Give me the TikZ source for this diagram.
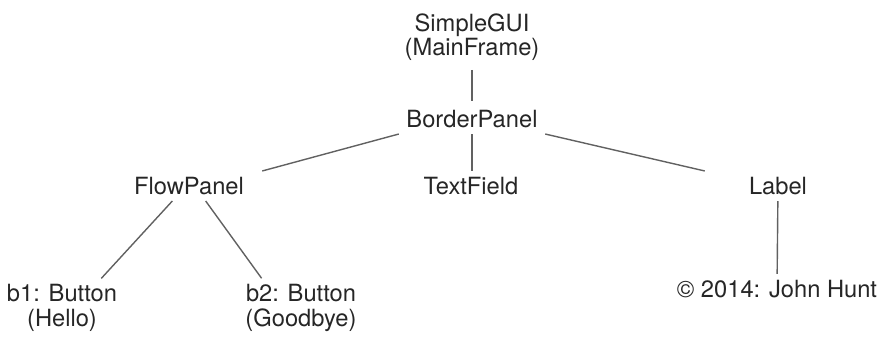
\documentclass[tikz,border=0pt]{standalone}
\usepackage{fontspec}
\setmainfont{TeX Gyre Heros}
\usepackage{tikz}
\usetikzlibrary{positioning}

\begin{document}
\begin{tikzpicture}[x=1pt, y=-1pt,
    part/.style={font=\fontsize{23.7}{24.5}\selectfont, text=black!85,
      inner sep=6pt, minimum width=146pt, align=center},
    link/.style={draw=black!62, line width=1.4pt}]
  \useasboundingbox (0,0) rectangle (886,338);
  % containment tree of the window
  \node[part] (gui) at (472,37) {SimpleGUI\\(MainFrame)};
  \node[part] (border) at (472,119) {BorderPanel};
  \node[part] (flow) at (189,186) {FlowPanel};
  \node[part] (field) at (471,186) {TextField};
  \node[part] (label) at (778,186) {Label};
  \node[part] (bone) at (62,308) {b1: Button\\(Hello)};
  \node[part] (btwo) at (301,308) {b2: Button\\(Goodbye)};
  \node[part] (copy) at (777,289) {\textcopyright{} 2014: John Hunt};
  \draw[link, shorten <=3pt, shorten >=3pt] (gui) -- (border);
  \draw[link] (border.south west) -- (flow.north east);
  \draw[link] (border) -- (border |- field.north);
  \draw[link] (border.south east) -- (label.north west);
  \draw[link] (flow.222) -- (bone.37);
  \draw[link] (flow.318) -- (btwo.143);
  \draw[link] (label) -- (copy);
\end{tikzpicture}
\end{document}
